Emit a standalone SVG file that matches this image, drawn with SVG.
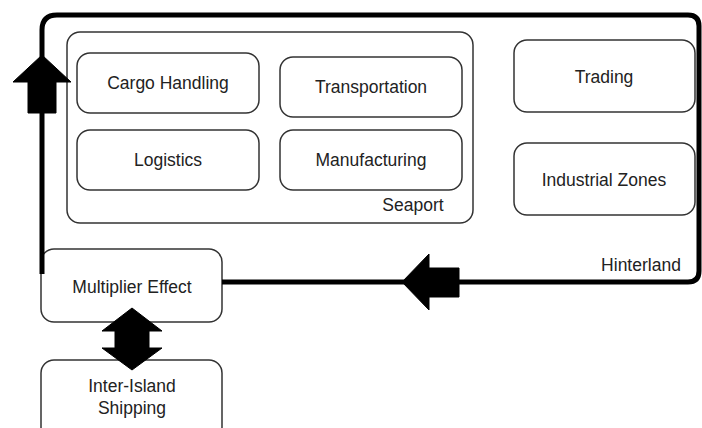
<svg xmlns="http://www.w3.org/2000/svg" width="702" height="428" viewBox="0 0 702 428">
<style>
.box{fill:#fff;stroke:#333;stroke-width:1.5}
.t{font-family:"Liberation Sans",Arial,sans-serif;font-size:17.5px;fill:#222;text-anchor:middle}
.thick{fill:none;stroke:#000;stroke-width:5;stroke-linejoin:round}
.arr{fill:#000;stroke:#000;stroke-width:1}
</style>
<rect width="702" height="428" fill="#fff"/>
<g id="hinterland">
<text class="t" x="641" y="271">Hinterland</text>
</g>
<g id="seaport">
<rect class="box" x="67" y="32" width="406" height="191" rx="13"/>
<text class="t" x="413" y="211">Seaport</text>
</g>
<g id="cargo-handling">
<rect class="box" x="77" y="53" width="182" height="60" rx="13"/>
<text class="t" x="168" y="89">Cargo Handling</text>
</g>
<g id="transportation">
<rect class="box" x="280" y="57" width="182" height="60" rx="13"/>
<text class="t" x="371" y="93">Transportation</text>
</g>
<g id="logistics">
<rect class="box" x="77" y="130" width="182" height="60" rx="13"/>
<text class="t" x="168" y="166">Logistics</text>
</g>
<g id="manufacturing">
<rect class="box" x="280" y="130" width="182" height="60" rx="13"/>
<text class="t" x="371" y="166">Manufacturing</text>
</g>
<g id="trading">
<rect class="box" x="514" y="40" width="181" height="72" rx="13"/>
<text class="t" x="604" y="83">Trading</text>
</g>
<g id="industrial-zones">
<rect class="box" x="514" y="143" width="181" height="72" rx="13"/>
<text class="t" x="604" y="186">Industrial Zones</text>
</g>
<g id="multiplier-effect">
<rect class="box" x="41" y="249" width="181" height="73" rx="13"/>
<text class="t" x="132" y="293">Multiplier Effect</text>
</g>
<g id="inter-island-shipping">
<rect class="box" x="41" y="360" width="181" height="80" rx="13"/>
<text class="t" x="132" y="392">Inter-Island</text>
<text class="t" x="132" y="414">Shipping</text>
</g>
<g id="connectors">
<path class="thick" d="M42,274 V30 Q42,15 57,15 H688 Q699,15 699,26 V271 Q699,282 688,282 H222"/>
<polygon class="arr" points="42,55 71,82 56,82 56,113 28,113 28,82 13,82"/>
<polygon class="arr" points="402,282 429,254 429,268 459,268 459,297 429,297 429,310"/>
<polygon class="arr" points="132,308 162,331 149,331 149,348 162,348 132,370 102,348 115,348 115,331 102,331"/>
</g>
</svg>
